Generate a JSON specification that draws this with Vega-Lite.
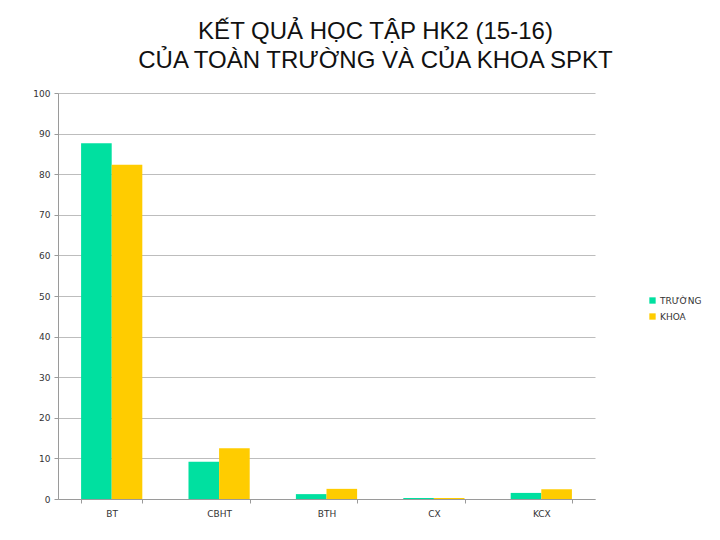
{
  "$schema": "https://vega.github.io/schema/vega-lite/v6.json",
  "autosize": "none",
  "width": 537,
  "height": 406,
  "padding": {"left": 58, "top": 93, "right": 125, "bottom": 41},
  "background": "white",
  "title": {
    "text": ["KẾT QUẢ HỌC TẬP HK2 (15-16)", "CỦA TOÀN TRƯỜNG VÀ CỦA KHOA SPKT"],
    "font": "Liberation Sans",
    "fontSize": 24,
    "fontWeight": "normal",
    "color": "#111111",
    "anchor": "middle",
    "dx": 49,
    "offset": 16,
    "lineHeight": 29
  },
  "data": {
    "values": [
      {"nhom": "BT", "doi_tuong": "TRƯỜNG", "ty_le": 87.6},
      {"nhom": "BT", "doi_tuong": "KHOA", "ty_le": 82.3},
      {"nhom": "CBHT", "doi_tuong": "TRƯỜNG", "ty_le": 9.2},
      {"nhom": "CBHT", "doi_tuong": "KHOA", "ty_le": 12.5},
      {"nhom": "BTH", "doi_tuong": "TRƯỜNG", "ty_le": 1.2},
      {"nhom": "BTH", "doi_tuong": "KHOA", "ty_le": 2.5},
      {"nhom": "CX", "doi_tuong": "TRƯỜNG", "ty_le": 0.25},
      {"nhom": "CX", "doi_tuong": "KHOA", "ty_le": 0.25},
      {"nhom": "KCX", "doi_tuong": "TRƯỜNG", "ty_le": 1.5},
      {"nhom": "KCX", "doi_tuong": "KHOA", "ty_le": 2.4}
    ]
  },
  "mark": "bar",
  "encoding": {
    "x": {
      "field": "nhom",
      "type": "nominal",
      "sort": ["BT", "CBHT", "BTH", "CX", "KCX"],
      "title": null,
      "scale": {"paddingInner": 0.43, "paddingOuter": 0.215},
      "axis": {
        "labelAngle": 0,
        "labelFont": "DejaVu Sans",
        "labelFontSize": 9,
        "labelColor": "#333333",
        "labelPadding": 6,
        "domainColor": "#9a9a9a",
        "tickColor": "#9a9a9a",
        "tickBand": "extent",
        "tickSize": 4
      }
    },
    "xOffset": {
      "field": "doi_tuong",
      "type": "nominal",
      "sort": ["TRƯỜNG", "KHOA"]
    },
    "y": {
      "field": "ty_le",
      "type": "quantitative",
      "title": null,
      "scale": {"domain": [0, 100]},
      "axis": {
        "values": [0, 10, 20, 30, 40, 50, 60, 70, 80, 90, 100],
        "labelFont": "DejaVu Sans",
        "labelFontSize": 9,
        "labelColor": "#333333",
        "labelPadding": 4,
        "domainColor": "#9a9a9a",
        "tickColor": "#9a9a9a",
        "tickSize": 4,
        "gridColor": "#bdbdbd",
        "gridWidth": 1
      }
    },
    "color": {
      "field": "doi_tuong",
      "type": "nominal",
      "sort": ["TRƯỜNG", "KHOA"],
      "scale": {"domain": ["TRƯỜNG", "KHOA"], "range": ["#00E0A0", "#FFCC00"]},
      "legend": {
        "title": null,
        "orient": "none",
        "legendX": 590,
        "legendY": 203,
        "symbolType": "square",
        "symbolSize": 40,
        "symbolStrokeWidth": 0,
        "labelFont": "DejaVu Sans",
        "labelFontSize": 9,
        "labelColor": "#333333",
        "labelOffset": 3,
        "rowPadding": 6
      }
    }
  },
  "config": {
    "view": {"stroke": null}
  }
}
